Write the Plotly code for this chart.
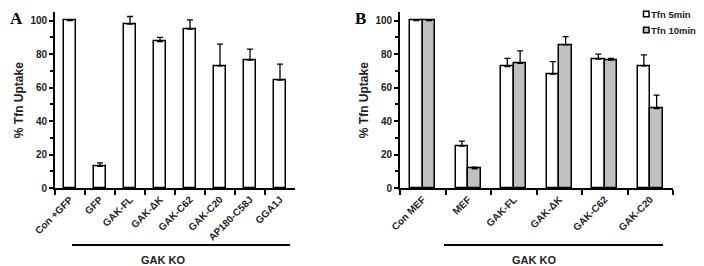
import plotly.graph_objects as go

# Panel A data
cats_a = ["Con +GFP", "GFP", "GAK-FL", "GAK-ΔK", "GAK-C62", "GAK-C20", "AP180-C58J", "GGA1J"]
vals_a = [100, 13, 98, 87.5, 95, 73, 76.5, 64.5]
err_a = [0, 2, 4.5, 2.5, 5.5, 13, 6.5, 9.5]

# Panel B data
cats_b = ["Con MEF", "MEF", "GAK-FL", "GAK-ΔK", "GAK-C62", "GAK-C20"]
series_b = ["Tfn 5min", "Tfn 10min"]
vals_b5 = [100, 25, 72.5, 68, 77, 73]
err_b5 = [0, 3, 5, 7.5, 3, 6.5]
vals_b10 = [100, 11.5, 74.5, 85.5, 76.5, 47.5]
err_b10 = [0, 1, 7.5, 5, 1, 8]

yticks = [0, 20, 40, 60, 80, 100]

FONT = "Liberation Sans, Arial, sans-serif"
TXT = "#222222"
GRAY = "#c0c0c0"

# page body has an 8px margin: figure is placed at (8, 8)
OFF = 8
W, H = 704 - OFF, 266 - OFF


def px(x):
    return (x - OFF) / W


def py(y):
    return 1 - (y - OFF) / H


fig = go.Figure()

fig.add_trace(go.Bar(
    x=cats_a, y=vals_a, width=0.42, xaxis="x", yaxis="y",
    marker=dict(color="white", line=dict(color="black", width=1.5)),
    error_y=dict(type="data", symmetric=False, array=err_a, arrayminus=[0]*len(err_a),
                 color="black", thickness=1.3, width=3),
    showlegend=False,
))

fig.add_trace(go.Bar(
    x=cats_b, y=vals_b5, width=0.28, offset=-0.28, xaxis="x2", yaxis="y2",
    name=series_b[0], showlegend=False,
    marker=dict(color="white", line=dict(color="black", width=1.5)),
    error_y=dict(type="data", symmetric=False, array=err_b5, arrayminus=[0]*len(err_b5),
                 color="black", thickness=1.3, width=3),
))
fig.add_trace(go.Bar(
    x=cats_b, y=vals_b10, width=0.28, offset=0, xaxis="x2", yaxis="y2",
    name=series_b[1], showlegend=False,
    marker=dict(color=GRAY, line=dict(color="black", width=1.5)),
    error_y=dict(type="data", symmetric=False, array=err_b10, arrayminus=[0]*len(err_b10),
                 color="black", thickness=1.3, width=3),
))

ydom = [py(188), py(12.3)]

xax = dict(type="category", tickson="boundaries", ticks="outside", ticklen=5, tickwidth=1.5,
           tickcolor="black", showline=True, linecolor="black", linewidth=1.8,
           tickangle=-45, tickfont=dict(family=FONT, size=10, color=TXT, weight="bold"),
           showgrid=False, zeroline=False, automargin=False)
yax = dict(range=[0, 105], tickvals=yticks, ticks="outside", ticklen=4, tickwidth=1.5,
           tickcolor="black", showline=True, linecolor="black", linewidth=1.8,
           tickfont=dict(family=FONT, size=10, color=TXT, weight="bold"),
           showgrid=False, zeroline=False, automargin=False,
           minor=dict(tickvals=[10, 30, 50, 70, 90], ticks="outside", ticklen=3,
                      tickwidth=1.5, tickcolor="black"),
           title=dict(text="% Tfn Uptake", font=dict(family=FONT, size=12, color=TXT, weight="bold"),
                      standoff=4))

fig.update_layout(
    width=W, height=H,
    margin=dict(l=0, r=0, t=0, b=0, autoexpand=False),
    plot_bgcolor="white", paper_bgcolor="white",
    xaxis=dict(xax, domain=[px(55), px(295)], anchor="y"),
    yaxis=dict(yax, domain=ydom, anchor="x"),
    xaxis2=dict(xax, domain=[px(400), px(673)], anchor="y2"),
    yaxis2=dict(yax, domain=ydom, anchor="x2"),
    bargap=0,
    showlegend=False,
)

# Legend (drawn manually to match the small square keys)
for i, (name, col) in enumerate(zip(series_b, ["white", GRAY])):
    yc = 14 + 16 * i
    fig.add_shape(type="rect", xref="paper", yref="paper",
                  x0=px(643.5), x1=px(649), y0=py(yc + 2.8), y1=py(yc - 2.8),
                  fillcolor=col, line=dict(color="black", width=1.5))
    fig.add_annotation(text=name, x=px(650), y=py(yc), xref="paper", yref="paper",
                       xanchor="left", yanchor="middle", showarrow=False, borderpad=0,
                       font=dict(family=FONT, size=9.5, color=TXT, weight="bold"))

# Panel letters
for letter, x in [("A", 9), ("B", 354)]:
    fig.add_annotation(text="<b>%s</b>" % letter, x=px(x), y=1, xref="paper", yref="paper",
                       xanchor="left", yanchor="top", showarrow=False, borderpad=0,
                       font=dict(family="Liberation Serif, Times New Roman, serif", size=17, color="black"))

# GAK KO brackets
for x0, x1, xc in [(72, 290, 163), (444, 663, 534)]:
    fig.add_shape(type="line", xref="paper", yref="paper",
                  x0=px(x0), x1=px(x1), y0=py(245), y1=py(245),
                  line=dict(color="black", width=2))
    fig.add_annotation(text="GAK KO", x=px(xc), y=py(259.5), xref="paper", yref="paper",
                       showarrow=False, xanchor="center", yanchor="middle",
                       font=dict(family=FONT, size=11, color=TXT, weight="bold"))

fig.write_html("out.html")
